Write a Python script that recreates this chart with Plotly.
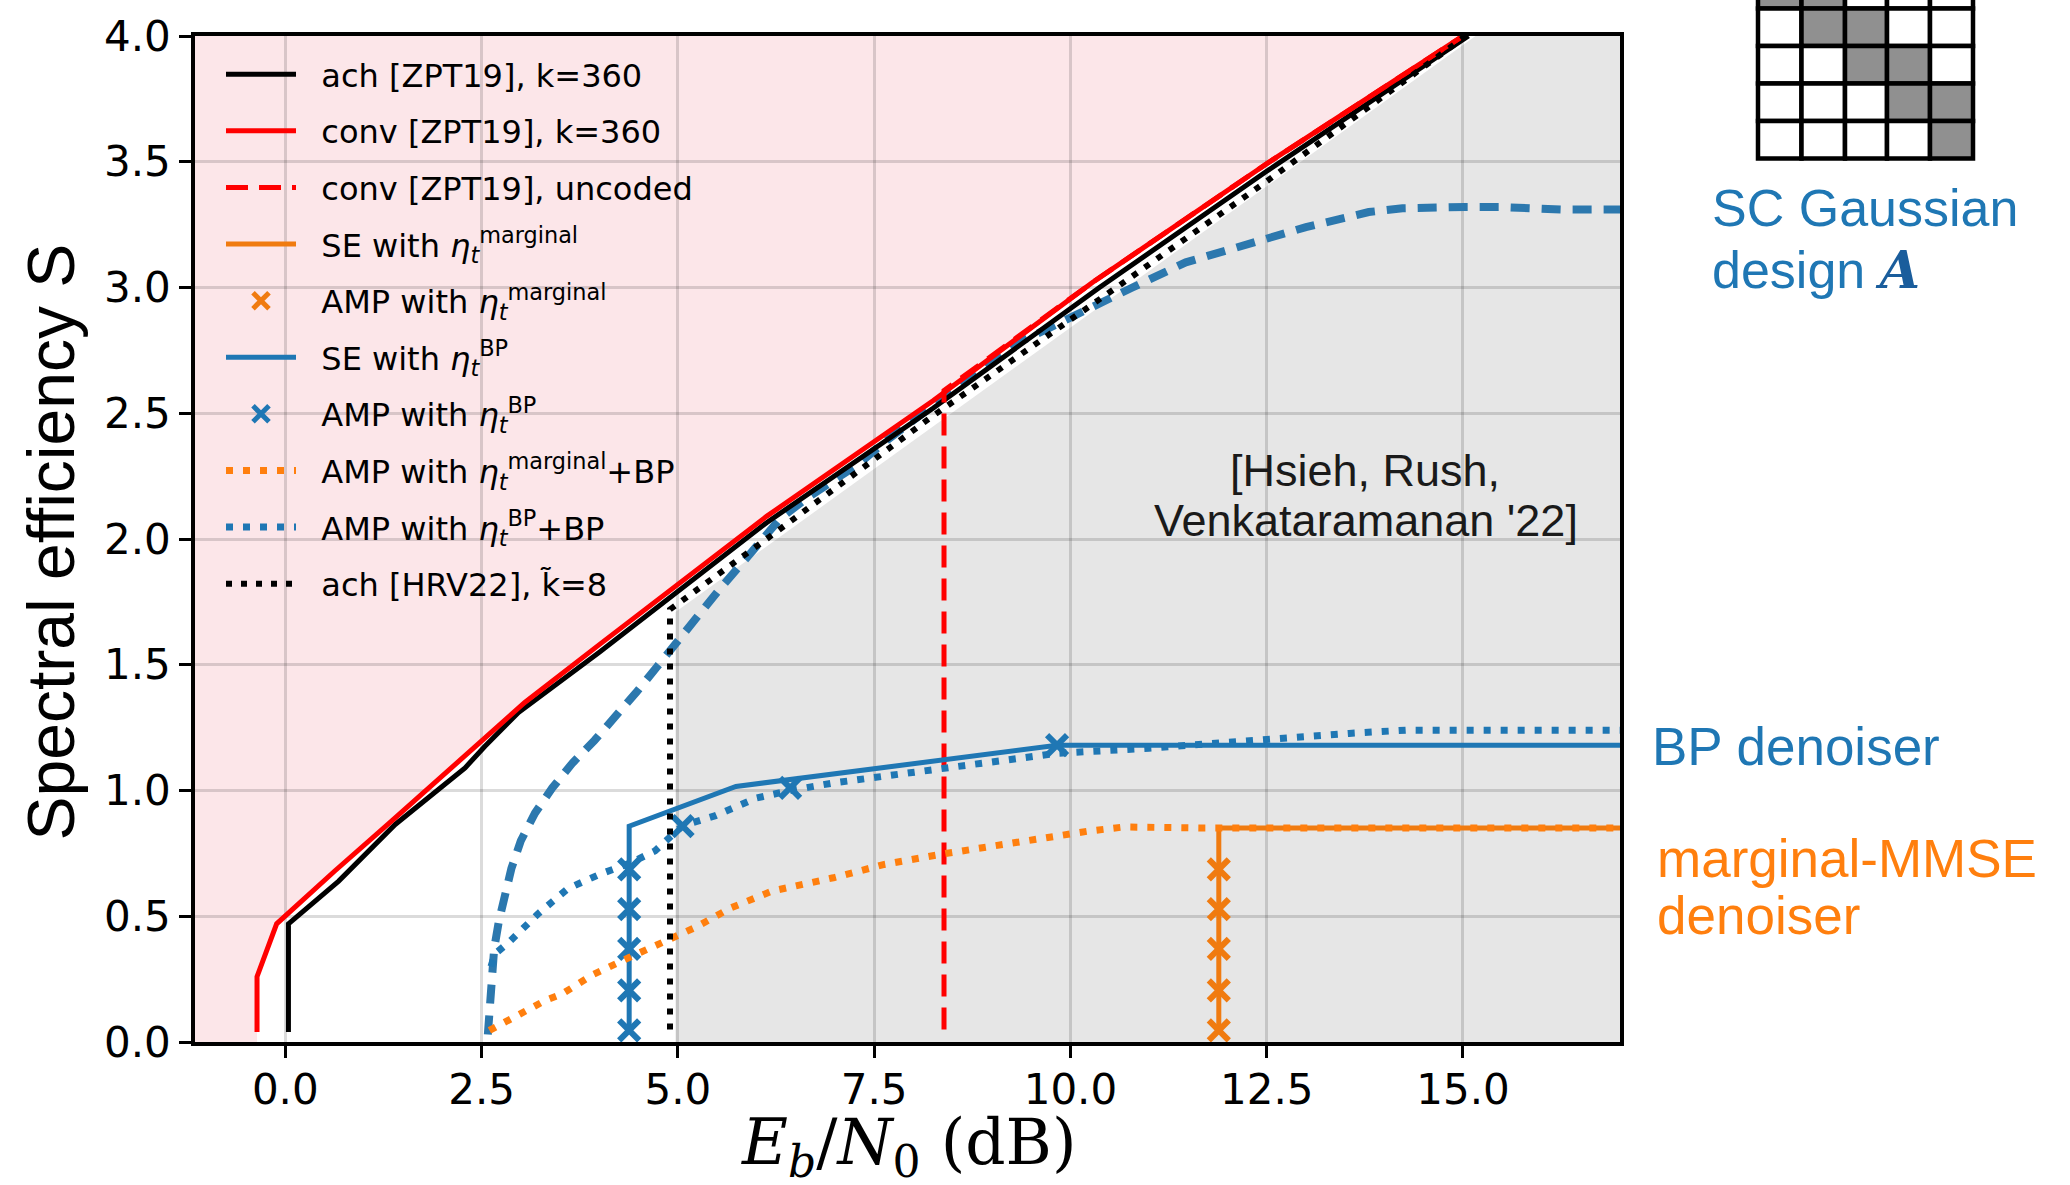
import plotly.graph_objects as go

# ---------------- axes ----------------
X_RANGE = [-1.15, 17.0]
Y_RANGE = [0.0, 4.0]
x_ticks = [0.0, 2.5, 5.0, 7.5, 10.0, 12.5, 15.0]
x_tick_text = ["0.0", "2.5", "5.0", "7.5", "10.0", "12.5", "15.0"]
y_ticks = [0.0, 0.5, 1.0, 1.5, 2.0, 2.5, 3.0, 3.5, 4.0]
y_tick_text = ["0.0", "0.5", "1.0", "1.5", "2.0", "2.5", "3.0", "3.5", "4.0"]

# ---------------- data ----------------
# converse bound [ZPT19], k=360 (red solid)
conv_x = [-0.36, -0.36, -0.11, 0.63, 1.36, 2.50, 3.05, 4.00, 6.13, 8.25, 10.28, 12.49, 15.00]
conv_s = [0.04, 0.26, 0.47, 0.68, 0.88, 1.20, 1.35, 1.58, 2.09, 2.55, 3.02, 3.49, 4.00]
# achievability [ZPT19], k=360 (black solid)
ach_x = [0.04, 0.04, 0.68, 1.40, 2.29, 2.54, 2.97, 4.00, 6.13, 8.25, 10.37, 12.49, 15.07]
ach_s = [0.04, 0.47, 0.64, 0.865, 1.09, 1.175, 1.31, 1.55, 2.065, 2.52, 3.00, 3.46, 4.00]
# converse uncoded (red dashed)
unc_x = [8.39, 8.39, 10.28, 12.49, 15.00]
unc_s = [0.05, 2.59, 3.02, 3.49, 4.00]
# achievability [HRV22], k~=8 (black dotted)
hrv_x = [4.90, 4.90, 6.13, 8.25, 10.54, 12.49, 14.82, 15.03]
hrv_s = [0.05, 1.72, 2.00, 2.49, 2.99, 3.42, 3.95, 4.00]
# region achievable in [HRV22] (grey area boundary)
hrv_region_x = [4.97, 15.16]
hrv_region_s = [1.71, 4.00]
# SC Gaussian design threshold curve (blue dashed, not in legend)
sc_x = [2.58, 2.60, 2.62, 2.66, 2.72, 2.79, 2.88, 3.00, 3.18, 3.40, 3.66, 3.94, 4.20, 4.47,
        4.73, 4.98, 5.28, 5.53, 5.78, 6.04, 6.30, 6.63, 6.97, 7.31, 7.61, 7.99, 8.29, 8.59,
        8.93, 9.26, 9.60, 9.98, 10.45, 10.79, 11.47, 12.23, 13.00, 13.80, 14.23, 15.03,
        15.46, 16.26, 17.00]
sc_s = [0.03, 0.15, 0.26, 0.37, 0.48, 0.58, 0.69, 0.80, 0.91, 1.01, 1.11, 1.20, 1.29, 1.39,
        1.49, 1.59, 1.70, 1.80, 1.89, 1.99, 2.08, 2.16, 2.23, 2.30, 2.38, 2.47, 2.55, 2.62,
        2.70, 2.77, 2.82, 2.88, 2.955, 3.00, 3.10, 3.17, 3.24, 3.30, 3.315, 3.32,
        3.32, 3.31, 3.31]
# SE with eta^marginal (orange solid) and AMP points
se_m_x = [11.89, 11.89, 17.00]
se_m_s = [0.04, 0.851, 0.851]
amp_m_x = [11.89, 11.89, 11.89, 11.89, 11.89]
amp_m_s = [0.046, 0.205, 0.37, 0.528, 0.686]
# SE with eta^BP (blue solid) and AMP points
se_bp_x = [4.38, 4.38, 5.74, 9.83, 17.00]
se_bp_s = [0.04, 0.858, 1.016, 1.18, 1.18]
amp_bp_x = [4.38, 4.38, 4.38, 4.38, 4.38, 5.06, 6.43, 9.83]
amp_bp_s = [0.046, 0.205, 0.37, 0.528, 0.686, 0.858, 1.01, 1.18]
# AMP with eta^marginal + BP (orange dotted)
mbp_x = [2.60, 2.84, 3.09, 3.31, 3.52, 3.93, 4.38, 4.84, 5.22, 5.68, 6.20, 6.98, 7.63, 8.34,
         9.25, 10.22, 10.68, 11.64, 17.00]
mbp_s = [0.046, 0.086, 0.125, 0.165, 0.19, 0.27, 0.336, 0.403, 0.455, 0.534, 0.60, 0.653,
         0.706, 0.746, 0.792, 0.838, 0.855, 0.851, 0.851]
# AMP with eta^BP + BP (blue dotted)
bpbp_x = [2.62, 2.67, 2.86, 3.05, 3.22, 3.41, 3.60, 3.81, 4.03, 4.38, 4.71, 5.06, 5.48, 6.00,
          6.43, 6.98, 7.95, 8.92, 9.83, 11.00, 12.49, 13.55, 14.27, 17.00]
bpbp_s = [0.30, 0.35, 0.40, 0.46, 0.51, 0.56, 0.61, 0.64, 0.67, 0.71, 0.76, 0.86, 0.90, 0.97,
          1.00, 1.03, 1.07, 1.115, 1.148, 1.168, 1.205, 1.227, 1.24, 1.24]

# spatially-coupled design icon: grey cells (row, col)
icon_rows = 5
icon_cols = 5
icon_band = [0, 1]   # grey if col - row in this list

# ---------------- colours ----------------
PINK = "#fce6e9"
GREY = "#e6e6e6"
BLUE = "#1f77b4"
BLUE_D = "#2c78ae"
ORANGE = "#f07b10"
ORANGE_L = "#ff7f0e"
RED = "#ff0000"

# ---------------- figure geometry ----------------
W, H = 2070, 1185
PL, PR, PT, PB = 195, 1620, 31, 1042


def pxx(v):
    return (v - PL) / (PR - PL)


def pxy(v):
    return (PB - v) / (PB - PT)


def poly_path(xs, ys):
    pts = [f"{x},{y}" for x, y in zip(xs, ys)]
    return "M " + " L ".join(pts) + " Z"


fig = go.Figure()

FONT = "DejaVu Sans"
LEG = 32
SP = "\u00a0\u00a0"


def add(x, y, name, color, width=5, dash="solid", mode="lines", marker=None, showlegend=True, group=None):
    kw = dict(x=x, y=y, name=SP + name, mode=mode, showlegend=showlegend,
              legendgroup=group if group else name)
    if "lines" in mode:
        kw["line"] = dict(color=color, width=width, dash=dash)
    if marker is not None:
        kw["marker"] = marker
    fig.add_trace(go.Scatter(**kw))


XM = dict(symbol="x-thin", size=20)
add(sc_x, sc_s, "SC design", BLUE_D, width=8, dash="19px,12px", showlegend=False, group="sc")
add(ach_x, ach_s, "ach [ZPT19], k=360", "black", width=5)
add(conv_x, conv_s, "conv [ZPT19], k=360", RED, width=5)
add(unc_x, unc_s, "conv [ZPT19], uncoded", RED, width=5, dash="22px,11px")
add(se_m_x, se_m_s, "SE with <i>η</i><sub><i>t</i></sub><sup>marginal</sup>", ORANGE, width=5)
add(amp_m_x, amp_m_s, "AMP with <i>η</i><sub><i>t</i></sub><sup>marginal</sup>", ORANGE, mode="markers",
    marker=dict(color=ORANGE, line=dict(color=ORANGE, width=6), **XM))
add(se_bp_x, se_bp_s, "SE with <i>η</i><sub><i>t</i></sub><sup>BP</sup>", BLUE, width=5)
add(amp_bp_x, amp_bp_s, "AMP with <i>η</i><sub><i>t</i></sub><sup>BP</sup>", BLUE, mode="markers",
    marker=dict(color=BLUE, line=dict(color=BLUE, width=6), **XM))
add(mbp_x, mbp_s, "AMP with <i>η</i><sub><i>t</i></sub><sup>marginal</sup>+BP", ORANGE_L, width=7, dash="7px,10px")
add(bpbp_x, bpbp_s, "AMP with <i>η</i><sub><i>t</i></sub><sup>BP</sup>+BP", BLUE, width=7, dash="7px,10px")
add(hrv_x, hrv_s, "ach [HRV22], k\u0303=8", "black", width=6, dash="6px,9px")

shapes = []
# pink: converse-excluded region (left of/above converse curve)
pink_x = [X_RANGE[0], conv_x[0]] + conv_x + [X_RANGE[0]]
pink_s = [Y_RANGE[0], Y_RANGE[0]] + conv_s + [Y_RANGE[1]]
shapes.append(dict(type="path", xref="x", yref="y", layer="below",
                   path=poly_path(pink_x, pink_s), fillcolor=PINK, line=dict(width=0)))
# grey: region covered by [HRV22]
grey_x = [hrv_region_x[0], hrv_region_x[0], hrv_region_x[1], X_RANGE[1], X_RANGE[1]]
grey_s = [Y_RANGE[0], hrv_region_s[0], hrv_region_s[1], Y_RANGE[1], Y_RANGE[0]]
shapes.append(dict(type="path", xref="x", yref="y", layer="below",
                   path=poly_path(grey_x, grey_s), fillcolor=GREY, line=dict(width=0)))

# SC design icon (top right)
col_edges = [1758, 1801.5, 1845, 1887, 1930, 1973]
row_h = 37.7
row_top0 = 3.3 - row_h
for r in range(icon_rows):
    for c in range(icon_cols):
        grey = (c - r) in icon_band
        y0 = row_top0 + r * row_h
        y1 = y0 + row_h
        shapes.append(dict(type="rect", xref="paper", yref="paper",
                           x0=pxx(col_edges[c]), x1=pxx(col_edges[c + 1]),
                           y0=pxy(y1), y1=pxy(y0),
                           fillcolor="#909090" if grey else "white",
                           line=dict(color="black", width=4.5)))

annotations = []
AFONT = "Liberation Sans"
annotations.append(dict(text="Spectral efficiency S", xref="paper", yref="paper",
                        x=pxx(51), y=pxy(540), textangle=-90, showarrow=False,
                        xanchor="center", yanchor="middle",
                        font=dict(family=AFONT, size=66, color="black")))
annotations.append(dict(text="<i>E<sub>b</sub></i>/<i>N</i><sub>0</sub> (dB)", xref="paper", yref="paper",
                        x=pxx(908), y=pxy(1147), showarrow=False,
                        xanchor="center", yanchor="middle",
                        font=dict(family="DejaVu Serif", size=63, color="black")))
annotations.append(dict(text="[Hsieh, Rush,", xref="paper", yref="paper",
                        x=pxx(1365), y=pxy(468), showarrow=False, xanchor="center", yanchor="middle",
                        font=dict(family=AFONT, size=45, color="#1a1a1a")))
annotations.append(dict(text="Venkataramanan '22]", xref="paper", yref="paper",
                        x=pxx(1366), y=pxy(518), showarrow=False, xanchor="center", yanchor="middle",
                        font=dict(family=AFONT, size=45, color="#1a1a1a")))
annotations.append(dict(text="BP denoiser", xref="paper", yref="paper",
                        x=pxx(1650), y=pxy(745), showarrow=False, xanchor="left", yanchor="middle",
                        font=dict(family=AFONT, size=53, color="#1f77b4")))
annotations.append(dict(text="marginal-MMSE", xref="paper", yref="paper",
                        x=pxx(1655), y=pxy(858), showarrow=False, xanchor="left", yanchor="middle",
                        font=dict(family=AFONT, size=53, color="#ff7f0e")))
annotations.append(dict(text="denoiser", xref="paper", yref="paper",
                        x=pxx(1655), y=pxy(915), showarrow=False, xanchor="left", yanchor="middle",
                        font=dict(family=AFONT, size=53, color="#ff7f0e")))
annotations.append(dict(text="SC Gaussian", xref="paper", yref="paper",
                        x=pxx(1710), y=pxy(204), showarrow=False, xanchor="left", yanchor="middle",
                        font=dict(family=AFONT, size=52, color="#1f77b4")))
annotations.append(dict(text="design <span style=\"font-family:'DejaVu Serif';font-weight:bold;font-style:italic;color:#1a5d9c\">A</span>",
                        xref="paper", yref="paper",
                        x=pxx(1710), y=pxy(266), showarrow=False, xanchor="left", yanchor="middle",
                        font=dict(family=AFONT, size=52, color="#1f77b4")))

axis_common = dict(showline=True, linecolor="black", linewidth=3.5, mirror=True,
                   ticks="outside", ticklen=12, tickwidth=3, tickcolor="black",
                   showgrid=True, gridcolor="rgba(0,0,0,0.14)", gridwidth=2.5,
                   zeroline=False, tickfont=dict(family=FONT, size=42, color="black"))

fig.update_layout(
    width=W, height=H,
    margin=dict(l=PL, r=W - PR, t=PT, b=H - PB, pad=0),
    plot_bgcolor="white", paper_bgcolor="white",
    xaxis=dict(range=X_RANGE, tickvals=x_ticks, ticktext=x_tick_text, ticklabelstandoff=-4, **axis_common),
    yaxis=dict(range=Y_RANGE, tickvals=y_ticks, ticktext=y_tick_text, **axis_common),
    shapes=shapes, annotations=annotations,
    legend=dict(x=pxx(221), y=pxy(42), xanchor="left", yanchor="top",
                bgcolor="rgba(0,0,0,0)", borderwidth=0,
                font=dict(family=FONT, size=LEG, color="black"),
                tracegroupgap=12, itemwidth=70, traceorder="grouped"),
    showlegend=True,
)

fig.write_html("out.html")
